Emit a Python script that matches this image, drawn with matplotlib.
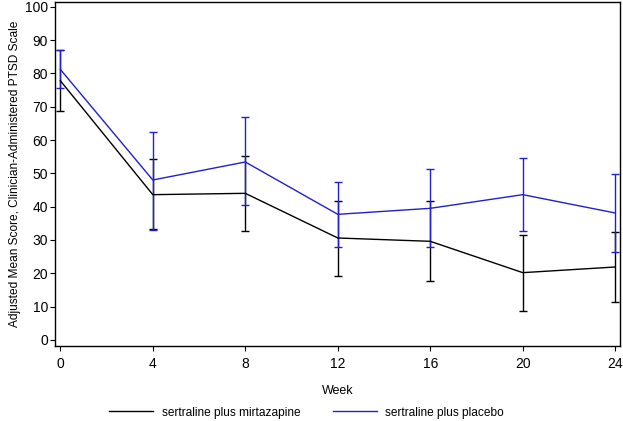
import matplotlib
matplotlib.use("Agg")
from matplotlib import pyplot as plt

plt.rcParams['font.family'] = ['Liberation Sans', 'DejaVu Sans']

weeks = [0, 4, 8, 12, 16, 20, 24]
mirt_mean = [77.8, 43.6, 44.0, 30.6, 29.6, 20.2, 21.9]
mirt_low = [68.7, 33.3, 32.7, 19.3, 17.7, 8.8, 11.3]
mirt_high = [86.9, 54.2, 55.2, 41.8, 41.6, 31.6, 32.3]
plac_mean = [81.2, 48.0, 53.4, 37.7, 39.5, 43.6, 38.1]
plac_low = [75.5, 33.0, 40.4, 27.8, 27.8, 32.6, 26.3]
plac_high = [87.0, 62.4, 66.8, 47.3, 51.4, 54.6, 49.9]

fig = plt.figure(figsize=(6.23, 4.21), dpi=100)
ax = fig.add_axes([0.089, 0.179, 0.906, 0.817])

def err(mean, low, high):
    return [[m - l for m, l in zip(mean, low)], [h - m for m, h in zip(mean, high)]]

ax.errorbar(weeks, mirt_mean, yerr=err(mirt_mean, mirt_low, mirt_high), color='black',
            lw=1, elinewidth=1, capsize=3, capthick=1, label='sertraline plus mirtazapine')
ax.errorbar(weeks, plac_mean, yerr=err(plac_mean, plac_low, plac_high), color='#2020d0',
            lw=1, elinewidth=1, capsize=3, capthick=1, label='sertraline plus placebo')

ax.set_xlim(-0.21, 24.2)
ax.set_ylim(-1.7, 101.5)
ax.set_xticks(weeks)
ax.set_yticks(range(0, 101, 10))
ax.tick_params(labelsize=10, length=3.8, width=0.8)
ax.tick_params(axis='x', pad=4.5)
ax.tick_params(axis='y', pad=1.5)
ax.set_xlabel('Week', fontsize=9, labelpad=10)
ax.set_ylabel('Adjusted Mean Score, Clinician-Administered PTSD Scale', fontsize=8.6, labelpad=3)
for s in ax.spines.values():
    s.set_linewidth(1)

handles, labels = ax.get_legend_handles_labels()
handles = [h[0] for h in handles]
fig.legend(handles, labels, loc='lower center', bbox_to_anchor=(0.492, -0.02), ncol=2,
           frameon=False, fontsize=8.6, handlelength=3.7, handletextpad=0.7,
           columnspacing=2.7)

fig.savefig('out.png', dpi=100)
